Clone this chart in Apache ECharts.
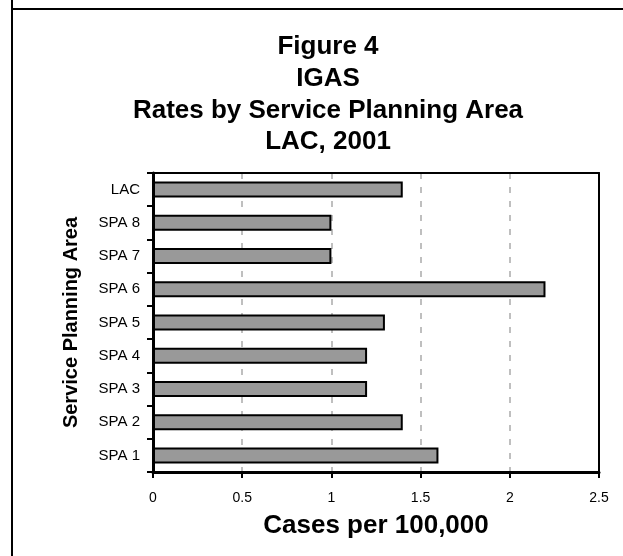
<!DOCTYPE html>
<html>
<head>
<meta charset="utf-8">
<script src="https://cdn.jsdelivr.net/npm/echarts@6/dist/echarts.min.js"></script>
<style>
html,body{margin:0;padding:0;background:#fff;}
#c{width:623px;height:556px;}
</style>
</head>
<body>
<div id="c"></div>
<script>
var categories = ['SPA 1','SPA 2','SPA 3','SPA 4','SPA 5','SPA 6','SPA 7','SPA 8','LAC'];
var rates = [1.6, 1.4, 1.2, 1.2, 1.3, 2.2, 1.0, 1.0, 1.4];
var titleLines = ['Figure 4','IGAS','Rates by Service Planning Area','LAC, 2001'];
var xTicks = [0, 0.5, 1, 1.5, 2, 2.5];

var chart = echarts.init(document.getElementById('c'), null, {renderer:'canvas'});
var font = 'Arial, "Liberation Sans", sans-serif';
var graphics = [
  {type:'line', shape:{x1:12, y1:0, x2:12, y2:556}, style:{stroke:'#000', lineWidth:2}},
  {type:'line', shape:{x1:11, y1:9, x2:623, y2:9}, style:{stroke:'#000', lineWidth:2}}
];
titleLines.forEach(function(t, i){
  graphics.push({type:'text', x:328, y:47 + i*31.7,
    style:{text:t, fill:'#000', font:'bold 26px ' + font, textAlign:'center', textVerticalAlign:'middle'}});
});
var option = {
  animation:false,
  backgroundColor:'#fff',
  grid:{left:153, top:173, right:24, bottom:84, show:false},
  graphic:graphics,
  xAxis:[{
    type:'value', min:xTicks[0], max:xTicks[xTicks.length-1], interval:0.5,
    name:'Cases per 100,000', nameLocation:'middle', nameGap:41,
    nameTextStyle:{fontFamily:font, fontWeight:'bold', fontSize:26, color:'#000'},
    axisLine:{show:true, onZero:false, lineStyle:{color:'#000', width:3}},
    axisTick:{show:true, inside:false, length:6, lineStyle:{color:'#000', width:2}},
    axisLabel:{fontFamily:font, fontSize:14, color:'#000', margin:19},
    splitLine:{show:true, lineStyle:{color:'#bfbfbf', width:2, type:[6,8]}}
  },{
    type:'value', position:'top', min:xTicks[0], max:xTicks[xTicks.length-1], interval:0.5,
    axisLine:{show:true, onZero:false, lineStyle:{color:'#000', width:2}},
    axisTick:{show:false}, axisLabel:{show:false}, splitLine:{show:false}
  }],
  yAxis:[{
    type:'category', data:categories,
    name:'Service Planning Area', nameLocation:'middle', nameGap:72, nameRotate:90,
    nameTextStyle:{fontFamily:font, fontWeight:'bold', fontSize:20, color:'#000'},
    axisLine:{show:true, onZero:false, lineStyle:{color:'#000', width:3}},
    axisTick:{show:true, inside:false, length:6, alignWithLabel:false, lineStyle:{color:'#000', width:2}},
    axisLabel:{fontFamily:font, fontSize:15, color:'#000', margin:13},
    splitLine:{show:false}
  },{
    type:'category', data:categories, position:'right',
    axisLine:{show:true, onZero:false, lineStyle:{color:'#000', width:2}},
    axisTick:{show:false}, axisLabel:{show:false}, splitLine:{show:false}
  }],
  series:[{
    type:'bar', data:rates, barWidth:16, xAxisIndex:0, yAxisIndex:0,
    itemStyle:{color:'#999999', borderColor:'#000', borderWidth:2}
  }]
};
chart.setOption(option);
</script>
</body>
</html>
